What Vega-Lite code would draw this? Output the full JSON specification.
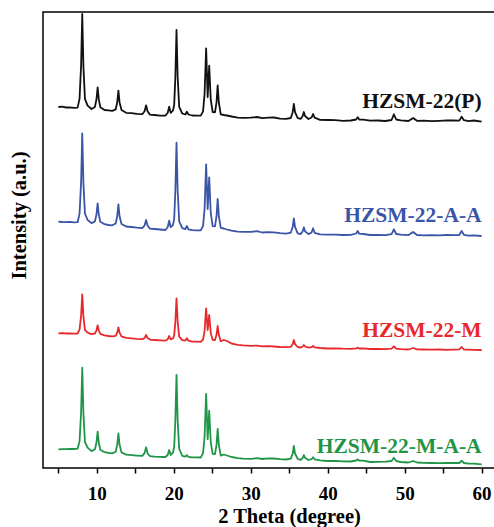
{
 "$schema": "https://vega.github.io/schema/vega-lite/v6.json",
 "width": 454, "height": 456,
 "autosize": {"type": "none"},
 "padding": {"left": 43, "top": 12, "right": 0, "bottom": 59},
 "background": "white",
 "config": {"view": {"stroke": "#000", "strokeWidth": 1.5}, "font": "Liberation Serif"},
 "layer": [
  {
   "data": {"values": [
    {"t":5.0,"P":361,"AA":246.3,"M":134.7,"MAA":18.7},
    {"t":5.5,"P":361.3,"AA":246.0,"M":134.9,"MAA":18.9},
    {"t":6.0,"P":360.5,"AA":245.9,"M":134.5,"MAA":18.8},
    {"t":6.5,"P":360.7,"AA":246.1,"M":134.7,"MAA":19.1},
    {"t":7.0,"P":360.2,"AA":245.7,"M":134.4,"MAA":19.0},
    {"t":7.5,"P":360.4,"AA":245.8,"M":134.5,"MAA":19.3},
    {"t":7.75,"P":369.4,"AA":254.4,"M":138.3,"MAA":26.8},
    {"t":7.95,"P":402.3,"AA":285.5,"M":152.1,"MAA":55.5},
    {"t":8.1,"P":454,"AA":334.7,"M":173.7,"MAA":100.3},
    {"t":8.25,"P":402.1,"AA":285.4,"M":152,"MAA":55.2},
    {"t":8.45,"P":369.2,"AA":254.3,"M":138.1,"MAA":26.2},
    {"t":8.8,"P":362.4,"AA":248,"M":135.3,"MAA":20.3},
    {"t":9.3,"P":359,"AA":244.9,"M":133.9,"MAA":16.9},
    {"t":9.75,"P":361.1,"AA":246.6,"M":134.5,"MAA":18.7},
    {"t":9.95,"P":368.7,"AA":253.5,"M":137.7,"MAA":25.5},
    {"t":10.1,"P":380.7,"AA":264.7,"M":142.7,"MAA":36.3},
    {"t":10.25,"P":368.6,"AA":253.4,"M":137.5,"MAA":25.3},
    {"t":10.45,"P":360.8,"AA":246.2,"M":134.1,"MAA":18.3},
    {"t":11.0,"P":358,"AA":243.8,"M":132.6,"MAA":15.8},
    {"t":11.5,"P":357.6,"AA":243,"M":132,"MAA":15.2},
    {"t":12.0,"P":357.2,"AA":242.7,"M":131.6,"MAA":14.6},
    {"t":12.45,"P":358.7,"AA":244.5,"M":132.2,"MAA":16.3},
    {"t":12.65,"P":365.9,"AA":251.9,"M":135.5,"MAA":23.4},
    {"t":12.8,"P":377.3,"AA":263.7,"M":140.7,"MAA":34.7},
    {"t":12.95,"P":365.6,"AA":251.7,"M":135.3,"MAA":23.2},
    {"t":13.2,"P":358,"AA":244,"M":131.7,"MAA":15.6},
    {"t":13.8,"P":355.2,"AA":241.5,"M":130.2,"MAA":13.3},
    {"t":14.5,"P":354.8,"AA":241,"M":129.7,"MAA":12.8},
    {"t":15.2,"P":354.2,"AA":240.3,"M":129.1,"MAA":12.4},
    {"t":15.9,"P":353.8,"AA":239.9,"M":128.8,"MAA":12.1},
    {"t":16.2,"P":356.7,"AA":242.5,"M":130,"MAA":14.9},
    {"t":16.4,"P":362.7,"AA":248,"M":133,"MAA":20.7},
    {"t":16.6,"P":356.5,"AA":242.3,"M":129.9,"MAA":14.5},
    {"t":16.9,"P":353.4,"AA":239.4,"M":128.4,"MAA":11.9},
    {"t":17.5,"P":353,"AA":239,"M":128,"MAA":11.3},
    {"t":18.2,"P":352.4,"AA":238.5,"M":127.6,"MAA":11.2},
    {"t":18.9,"P":352.3,"AA":238,"M":127.3,"MAA":11},
    {"t":19.2,"P":355,"AA":240.8,"M":128.7,"MAA":13},
    {"t":19.4,"P":361.3,"AA":247.3,"M":132,"MAA":18},
    {"t":19.6,"P":355.1,"AA":240.8,"M":128.6,"MAA":13},
    {"t":19.9,"P":357.5,"AA":243.2,"M":129.7,"MAA":15.7},
    {"t":20.05,"P":363.4,"AA":249.4,"M":132.6,"MAA":21.5},
    {"t":20.2,"P":391,"AA":277.2,"M":146.2,"MAA":47.8},
    {"t":20.35,"P":438,"AA":325.3,"M":169.7,"MAA":93},
    {"t":20.5,"P":391,"AA":277.2,"M":146.2,"MAA":47.8},
    {"t":20.7,"P":361.1,"AA":246.6,"M":131.3,"MAA":19},
    {"t":21.1,"P":354.5,"AA":239.9,"M":127.8,"MAA":12.2},
    {"t":21.5,"P":353.5,"AA":238.8,"M":127.5,"MAA":11.3},
    {"t":21.7,"P":356.3,"AA":242,"M":129.7,"MAA":12.8},
    {"t":21.9,"P":353.5,"AA":238.7,"M":127.3,"MAA":11.2},
    {"t":22.4,"P":352.5,"AA":237.8,"M":126.4,"MAA":10.6},
    {"t":23.0,"P":352.3,"AA":237.6,"M":126.3,"MAA":10.6},
    {"t":23.5,"P":352.3,"AA":237.6,"M":126.2,"MAA":10.5},
    {"t":23.8,"P":356.7,"AA":242.2,"M":128.5,"MAA":14.9},
    {"t":24.0,"P":374.3,"AA":259.4,"M":137.1,"MAA":31.4},
    {"t":24.2,"P":419.7,"AA":303.7,"M":159.7,"MAA":74},
    {"t":24.4,"P":371,"AA":259,"M":138,"MAA":28.7},
    {"t":24.6,"P":402.3,"AA":290.7,"M":153,"MAA":57.3},
    {"t":24.8,"P":368.5,"AA":255.2,"M":134.9,"MAA":25.9},
    {"t":25.05,"P":356,"AA":241.9,"M":128.1,"MAA":14.1},
    {"t":25.35,"P":355.7,"AA":241.7,"M":128,"MAA":13.8},
    {"t":25.55,"P":365.6,"AA":251.8,"M":133.2,"MAA":23.2},
    {"t":25.7,"P":382.7,"AA":269,"M":142,"MAA":39},
    {"t":25.85,"P":365.5,"AA":251.8,"M":133.2,"MAA":23.2},
    {"t":26.1,"P":353.7,"AA":240.1,"M":126.8,"MAA":12.3},
    {"t":26.5,"P":353,"AA":239.5,"M":128,"MAA":13.5},
    {"t":26.9,"P":352.5,"AA":238.5,"M":127,"MAA":12.5},
    {"t":27.5,"P":351.5,"AA":237.3,"M":124.5,"MAA":11},
    {"t":28.3,"P":350.3,"AA":236.3,"M":123.2,"MAA":9.8},
    {"t":29.0,"P":350.2,"AA":236.1,"M":122.6,"MAA":9.3},
    {"t":30.0,"P":350.3,"AA":236.2,"M":122.2,"MAA":9.2},
    {"t":30.8,"P":351,"AA":236.8,"M":122.4,"MAA":9.8},
    {"t":31.5,"P":349.8,"AA":235.5,"M":121.6,"MAA":9},
    {"t":32.3,"P":350.4,"AA":235.8,"M":121.8,"MAA":9.6},
    {"t":33.0,"P":350.5,"AA":235.7,"M":121.5,"MAA":9.5},
    {"t":33.8,"P":349.3,"AA":234.8,"M":121,"MAA":8.8},
    {"t":34.6,"P":349.1,"AA":234.4,"M":120.9,"MAA":8.5},
    {"t":35.2,"P":350,"AA":235.3,"M":121.1,"MAA":9.4},
    {"t":35.45,"P":355.8,"AA":241.1,"M":123.9,"MAA":14.5},
    {"t":35.6,"P":364,"AA":249.7,"M":128,"MAA":22},
    {"t":35.75,"P":355.8,"AA":241.1,"M":123.9,"MAA":14.5},
    {"t":36.1,"P":349.8,"AA":234.7,"M":121,"MAA":9.2},
    {"t":36.5,"P":349.2,"AA":234,"M":120.5,"MAA":8.2},
    {"t":36.75,"P":352,"AA":236.8,"M":121.5,"MAA":10.2},
    {"t":36.9,"P":356,"AA":240.7,"M":123,"MAA":13},
    {"t":37.05,"P":352,"AA":236.8,"M":121.5,"MAA":10.2},
    {"t":37.5,"P":349,"AA":233.9,"M":120.3,"MAA":8},
    {"t":37.9,"P":350.5,"AA":235.5,"M":120.8,"MAA":8.8},
    {"t":38.1,"P":354,"AA":239.7,"M":122,"MAA":10.7},
    {"t":38.3,"P":350.3,"AA":235.2,"M":120.6,"MAA":8.7},
    {"t":39.0,"P":348.2,"AA":233.6,"M":120,"MAA":7.6},
    {"t":40.0,"P":348,"AA":233.3,"M":119.5,"MAA":7},
    {"t":41.0,"P":347.8,"AA":233.4,"M":119.6,"MAA":7.1},
    {"t":42.0,"P":347.2,"AA":233,"M":119.3,"MAA":6.6},
    {"t":43.0,"P":347.5,"AA":233.2,"M":119.2,"MAA":6.5},
    {"t":43.7,"P":348.5,"AA":234.5,"M":119.6,"MAA":7.5},
    {"t":43.9,"P":350.7,"AA":237,"M":120.3,"MAA":8.5},
    {"t":44.1,"P":348.5,"AA":234.3,"M":119.5,"MAA":7.3},
    {"t":44.6,"P":348.4,"AA":234,"M":119.6,"MAA":7.4},
    {"t":45.5,"P":347.3,"AA":233,"M":119,"MAA":6},
    {"t":46.5,"P":347.5,"AA":233.2,"M":119.1,"MAA":6.2},
    {"t":47.5,"P":347,"AA":232.9,"M":118.8,"MAA":6.3},
    {"t":48.3,"P":348,"AA":233.8,"M":119.4,"MAA":7},
    {"t":48.6,"P":353.7,"AA":238.7,"M":121.5,"MAA":10.3},
    {"t":48.9,"P":348.5,"AA":234,"M":119.3,"MAA":7},
    {"t":49.5,"P":347.6,"AA":233.3,"M":118.9,"MAA":6},
    {"t":50.5,"P":347,"AA":232.9,"M":118.5,"MAA":5.5},
    {"t":51.1,"P":350,"AA":236,"M":120,"MAA":7},
    {"t":51.6,"P":347.2,"AA":233,"M":118.6,"MAA":5.5},
    {"t":52.5,"P":347.3,"AA":232.7,"M":118.5,"MAA":5.2},
    {"t":53.5,"P":346.8,"AA":232.8,"M":118.4,"MAA":5},
    {"t":54.5,"P":347.2,"AA":232.6,"M":118.5,"MAA":4.8},
    {"t":55.5,"P":347.6,"AA":233,"M":118.2,"MAA":5},
    {"t":56.3,"P":347.5,"AA":232.8,"M":118.4,"MAA":5.2},
    {"t":57.1,"P":347.4,"AA":233,"M":118.6,"MAA":5},
    {"t":57.4,"P":351.3,"AA":237,"M":121,"MAA":7.3},
    {"t":57.7,"P":347.8,"AA":233.2,"M":118.5,"MAA":5},
    {"t":58.3,"P":346.8,"AA":232.3,"M":118.3,"MAA":4.3},
    {"t":59.0,"P":347.5,"AA":232.7,"M":118.1,"MAA":4.4},
    {"t":60.0,"P":346.3,"AA":232,"M":118,"MAA":3.7}
   ]},
   "transform": [{"fold": ["P", "AA", "M", "MAA"], "as": ["key", "v"]}],
   "mark": {"type": "line", "strokeWidth": 1.8, "strokeJoin": "round"},
   "encoding": {
    "x": {"field": "t", "type": "quantitative",
     "scale": {"domain": [3, 62], "nice": false, "zero": false},
     "axis": {"values": [5,10,15,20,25,30,35,40,45,50,55,60],
      "labelExpr": "datum.value % 10 === 0 ? datum.label : ''",
      "tickSize": 5, "tickWidth": 1.5, "tickColor": "#000",
      "domain": false, "grid": false,
      "labelFont": "Liberation Serif", "labelFontWeight": "bold", "labelFontSize": 19,
      "labelColor": "#000", "labelPadding": 11, "labelFlush": false, "labelOverlap": false,
      "title": "2 Theta (degree)", "titleFont": "Liberation Serif", "titleFontSize": 20.5,
      "titleFontWeight": "bold", "titleColor": "#000", "titleX": 246, "titleY": 54,
      "titleBaseline": "alphabetic"}},
    "y": {"field": "v", "type": "quantitative",
     "scale": {"domain": [0, 456], "nice": false, "zero": false},
     "axis": {"labels": false, "ticks": false, "domain": false, "grid": false,
      "title": "Intensity (a.u.)", "titleFont": "Liberation Serif", "titleFontSize": 20.5,
      "titleFontWeight": "bold", "titleColor": "#000", "titleX": -14, "titleY": 203}},
    "color": {"field": "key", "type": "nominal",
     "scale": {"domain": ["P", "AA", "M", "MAA"], "range": ["#111111", "#3a54a6", "#e8292c", "#1f9548"]},
     "legend": null}
   }
  },
  {
   "data": {"values": [
    {"t": 60, "v": 360, "key": "P", "label": "HZSM-22(P)"},
    {"t": 60, "v": 246.3, "key": "AA", "label": "HZSM-22-A-A"},
    {"t": 60, "v": 131.3, "key": "M", "label": "HZSM-22-M"},
    {"t": 60, "v": 14.7, "key": "MAA", "label": "HZSM-22-M-A-A"}
   ]},
   "mark": {"type": "text", "align": "right", "baseline": "alphabetic", "fontSize": 21.5,
    "fontWeight": "bold", "font": "Liberation Serif"},
   "encoding": {
    "x": {"field": "t", "type": "quantitative"},
    "y": {"field": "v", "type": "quantitative"},
    "text": {"field": "label"},
    "color": {"field": "key", "type": "nominal"}
   }
  }
 ]
}
